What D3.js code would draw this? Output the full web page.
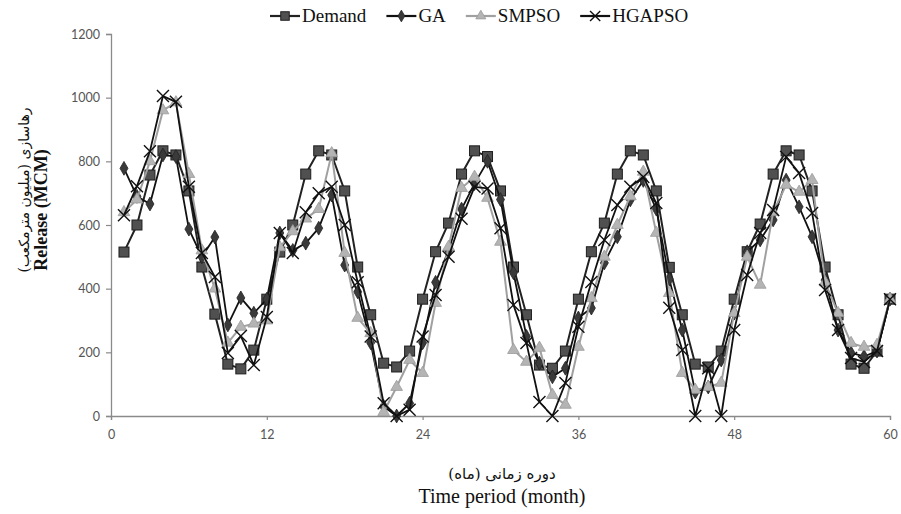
<!DOCTYPE html>
<html>
<head>
<meta charset="utf-8">
<script src="https://cdn.jsdelivr.net/npm/d3@7"></script>
<style>
  body { margin: 0; background: #fff; }
  svg { display: block; }
</style>
</head>
<body>
<svg id="chart" width="901" height="514"></svg>
<script>
// monthly release values (MCM)
const months = d3.range(1, 61);

const demand = [515, 600, 757, 833, 820, 707, 468, 320, 163, 148, 207, 367,
                515, 600, 760, 833, 820, 707, 468, 318, 166, 154, 204, 367,
                516, 606, 760, 833, 815, 707, 468, 318, 160, 150, 204, 367,
                516, 606, 760, 833, 820, 707, 467, 318, 163, 154, 204, 367,
                516, 603, 760, 833, 820, 707, 468, 318, 163, 150, 204, 367];

const ga = [778, 690, 666, 820, 815, 587, 500, 562, 286, 371, 323, 367,
            575, 520, 543, 590, 694, 474, 390, 230, 30, 0, 40, 230,
            420, 520, 650, 730, 800, 680, 450, 250, 166, 123, 150, 308,
            339, 481, 563, 679, 740, 650, 430, 270, 75, 91, 176, 323,
            516, 553, 616, 741, 657, 563, 427, 270, 198, 187, 204, 367];

const smpso = [640, 680, 800, 960, 985, 760, 520, 400, 230, 280, 290, 300,
               530, 580, 620, 650, 825, 512, 308, 260, 12, 91, 176, 135,
               355, 531, 716, 751, 685, 547, 207, 170, 214, 66, 35, 217,
               370, 500, 600, 690, 767, 575, 386, 135, 82, 91, 104, 323,
               500, 412, 640, 726, 704, 741, 420, 323, 229, 217, 223, 367];

const hgapso = [631, 722, 832, 1005, 987, 720, 512, 437, 198, 251, 160, 311,
                575, 512, 640, 700, 720, 600, 420, 250, 40, 0, 20, 250,
                380, 500, 620, 720, 715, 590, 349, 229, 44, 0, 104, 280,
                421, 553, 663, 720, 751, 669, 340, 207, 0, 150, 0, 270,
                443, 575, 647, 814, 763, 638, 396, 270, 182, 170, 204, 367];

const seriesNames = ["Demand", "GA", "SMPSO", "HGAPSO"];
const xTicks = [0, 12, 24, 36, 48, 60];
const yTicks = [0, 200, 400, 600, 800, 1000, 1200];

const plot = { left: 111, right: 890, top: 34, bottom: 416 };

const svg = d3.select("#chart");

const x = d3.scaleLinear().domain([0, 60]).range([plot.left, plot.right]);
const y = d3.scaleLinear().domain([0, 1200]).range([plot.bottom, plot.top]);

// axes
const yAxis = svg.append("g")
  .attr("transform", `translate(${plot.left},0)`)
  .call(d3.axisLeft(y).tickValues(yTicks).tickFormat(d3.format("d")).tickSize(5).tickPadding(6));
const xAxis = svg.append("g")
  .attr("transform", `translate(0,${plot.bottom})`)
  .call(d3.axisBottom(x).tickValues(xTicks).tickFormat(d3.format("d")).tickSize(4).tickPadding(10));

[xAxis, yAxis].forEach(g => {
  g.select(".domain").attr("stroke", "#8a8a8a").attr("stroke-width", 1.3);
  g.selectAll(".tick line").attr("stroke", "#8a8a8a").attr("stroke-width", 1.2);
  g.selectAll(".tick text")
    .attr("fill", "#555")
    .style("font-family", "Lato, 'Open Sans', sans-serif")
    .style("font-size", "12.5px");
});

// series styles
const styles = {
  Demand: { data: demand, stroke: "#222", width: 2, symbol: "square" },
  GA:     { data: ga, stroke: "#111", width: 1.8, symbol: "diamond" },
  SMPSO:  { data: smpso, stroke: "#a0a0a0", width: 2, symbol: "triangle" },
  HGAPSO: { data: hgapso, stroke: "#111", width: 1.8, symbol: "cross" }
};

function drawMarker(g, kind, cx, cy, scale) {
  const s = scale || 1;
  if (kind === "square") {
    g.append("rect")
      .attr("x", cx - 5 * s).attr("y", cy - 5 * s)
      .attr("width", 10 * s).attr("height", 10 * s)
      .attr("fill", "#505050").attr("stroke", "#1e1e1e").attr("stroke-width", 1);
  } else if (kind === "diamond") {
    g.append("path")
      .attr("d", d3.symbol(d3.symbolDiamond, 55 * s * s)())
      .attr("transform", `translate(${cx},${cy})`)
      .attr("fill", "#3a3a3a").attr("stroke", "#222").attr("stroke-width", 0.8);
  } else if (kind === "triangle") {
    g.append("path")
      .attr("d", d3.symbol(d3.symbolTriangle, 60 * s * s)())
      .attr("transform", `translate(${cx},${cy})`)
      .attr("fill", "#b4b4b4").attr("stroke", "#9a9a9a").attr("stroke-width", 0.8);
  } else {
    const r = 6 * s;
    g.append("path")
      .attr("d", `M${cx - r},${cy - r}L${cx + r},${cy + r}M${cx - r},${cy + r}L${cx + r},${cy - r}`)
      .attr("stroke", "#111").attr("stroke-width", 1.4).attr("fill", "none");
  }
}

const line = d3.line().x((d, i) => x(months[i])).y(d => y(d));

seriesNames.forEach(name => {
  const st = styles[name];
  const g = svg.append("g");
  g.append("path")
    .datum(st.data)
    .attr("d", line)
    .attr("fill", "none")
    .attr("stroke", st.stroke)
    .attr("stroke-width", st.width)
    .attr("stroke-linejoin", "round");
  st.data.forEach((v, i) => drawMarker(g, st.symbol, x(months[i]), y(v)));
});

// legend
const legend = svg.append("g");
let lx = 270;
seriesNames.forEach(name => {
  const st = styles[name];
  legend.append("line")
    .attr("x1", lx).attr("x2", lx + 30).attr("y1", 16).attr("y2", 16)
    .attr("stroke", st.stroke).attr("stroke-width", 2.2);
  drawMarker(legend, st.symbol, lx + 15, 16, 0.85);
  const t = legend.append("text")
    .attr("x", lx + 32).attr("y", 22)
    .style("font-family", "'Liberation Serif', serif")
    .style("font-size", "19px")
    .attr("fill", "#111")
    .text(name);
  lx += 32 + t.node().getComputedTextLength() + 20;
});

// axis titles
svg.append("text")
  .attr("transform", "translate(29,190) rotate(-90)")
  .attr("text-anchor", "middle")
  .style("font-family", "'DejaVu Serif', 'DejaVu Sans', serif")
  .style("font-size", "14px")
  .attr("fill", "#111")
  .text("رهاسازی (میلیون مترمکعب)");

svg.append("text")
  .attr("transform", "translate(47,210) rotate(-90)")
  .attr("text-anchor", "middle")
  .style("font-family", "'Liberation Serif', serif")
  .style("font-size", "18px")
  .style("font-weight", "bold")
  .attr("fill", "#111")
  .text("Release (MCM)");

svg.append("text")
  .attr("x", 502).attr("y", 479)
  .attr("text-anchor", "middle")
  .style("font-family", "'DejaVu Serif', 'DejaVu Sans', serif")
  .style("font-size", "15px")
  .attr("fill", "#111")
  .text("دوره زمانی (ماه)");

svg.append("text")
  .attr("x", 502).attr("y", 503)
  .attr("text-anchor", "middle")
  .style("font-family", "'Liberation Serif', serif")
  .style("font-size", "20px")
  .attr("fill", "#111")
  .text("Time period (month)");
</script>
</body>
</html>
